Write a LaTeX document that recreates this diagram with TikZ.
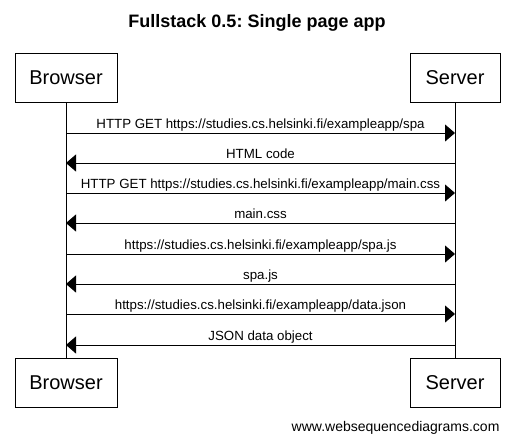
\documentclass[tikz,border=0pt]{standalone}
\usepackage{fontspec}
\setmainfont{Liberation Sans}
\usetikzlibrary{arrows.meta, positioning}
\frenchspacing

\tikzset{
  actor/.style={draw, line width=1pt, fill=white, minimum height=49pt, inner sep=0pt, font=\fontsize{20}{24}\selectfont},
  msg/.style={line width=1pt, -{Triangle[length=10pt, width=17pt]}},
  lbl/.style={midway, anchor=base, yshift=4.5pt, inner sep=0pt, font=\fontsize{13.3}{15}\selectfont}
}

\begin{document}
\begin{tikzpicture}[x=1pt, y=-1pt]
\useasboundingbox (0,0) rectangle (514,442);
\node[anchor=base, font=\bfseries\fontsize{18}{22}\selectfont] (title) at (257,27) {Fullstack 0.5: Single page app};

% participants
\node[actor, minimum width=102pt] (btop) at (66,77.5) {Browser};
\node[actor, minimum width=90pt] (stop) at (455,77.5) {Server};
\node[actor, minimum width=102pt] (bbot) at (66,382.5) {Browser};
\node[actor, minimum width=90pt] (sbot) at (455,382.5) {Server};

% lifelines
\draw[line width=1pt] (btop.south) -- (bbot.north);
\draw[line width=1pt] (stop.south) -- (sbot.north);

% message points on the lifelines
\coordinate (b1) at (66,133);  \coordinate (s1) at (455,133);
\coordinate (b2) at (66,163);  \coordinate (s2) at (455,163);
\coordinate (b3) at (66,193);  \coordinate (s3) at (455,193);
\coordinate (b4) at (66,223);  \coordinate (s4) at (455,223);
\coordinate (b5) at (66,254);  \coordinate (s5) at (455,254);
\coordinate (b6) at (66,284);  \coordinate (s6) at (455,284);
\coordinate (b7) at (66,314);  \coordinate (s7) at (455,314);
\coordinate (b8) at (66,345);  \coordinate (s8) at (455,345);

% messages
\draw[msg] (b1) -- node[lbl] {HTTP GET https://studies.cs.helsinki.fi/exampleapp/spa} (s1);
\draw[msg] (s2) -- node[lbl] {HTML code} (b2);
\draw[msg] (b3) -- node[lbl] {HTTP GET https://studies.cs.helsinki.fi/exampleapp/main.css} (s3);
\draw[msg] (s4) -- node[lbl] {main.css} (b4);
\draw[msg] (b5) -- node[lbl] {https://studies.cs.helsinki.fi/exampleapp/spa.js} (s5);
\draw[msg] (s6) -- node[lbl] {spa.js} (b6);
\draw[msg] (b7) -- node[lbl] {https://studies.cs.helsinki.fi/exampleapp/data.json} (s7);
\draw[msg] (s8) -- node[lbl] {JSON data object} (b8);

\node[anchor=base east, font=\fontsize{14}{17}\selectfont] (site) at (503,431) {www.websequencediagrams.com};
\end{tikzpicture}
\end{document}
